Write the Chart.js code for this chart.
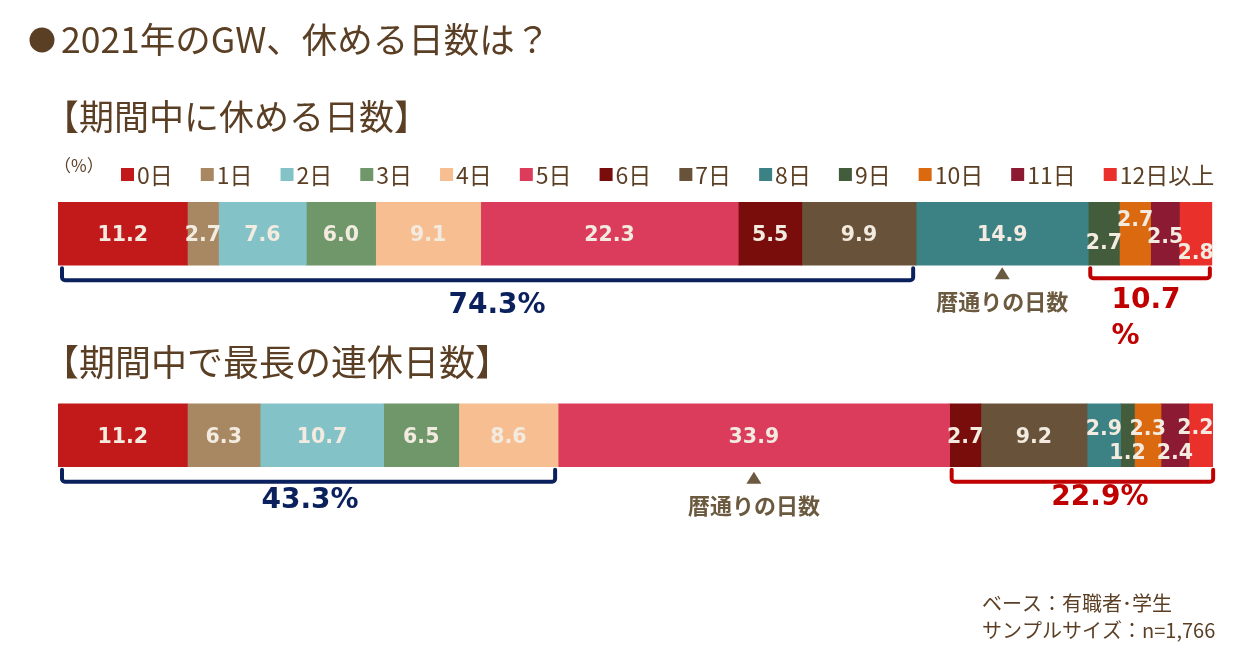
<!DOCTYPE html>
<html lang="ja">
<head>
  <meta charset="UTF-8" />
  <title>2021年のGW、休める日数は？</title>
  <script src="https://cdn.jsdelivr.net/npm/chart.js"></script>
<style>
  html, body { margin: 0; padding: 0; background: #fff; }
  #gwChart { display: block; }
</style>
</head>
<body>
  <canvas id="gwChart" width="1246" height="655"></canvas>
<script>
  // 2本の積み上げ棒
  const categories = ['期間中に休める日数', '期間中で最長の連休日数'];
  const dayLabels = ['0日', '1日', '2日', '3日', '4日', '5日', '6日', '7日', '8日', '9日', '10日', '11日', '12日以上'];
  const restDays = [11.2, 2.7, 7.6, 6.0, 9.1, 22.3, 5.5, 9.9, 14.9, 2.7, 2.7, 2.5, 2.8];
  const longestRun = [11.2, 6.3, 10.7, 6.5, 8.6, 33.9, 2.7, 9.2, 2.9, 1.2, 2.3, 2.4, 2.2];
  const dayColors = ['#c2191a', '#a88862', '#83c3c8', '#6f976a', '#f7be91', '#db3c5c', '#780d0c',
                     '#68533a', '#3c8285', '#425c3c', '#db6910', '#8c1a32', '#e9302a'];

  // ラベルが重ならないように上下にずらす（px）
  const shiftRest = [0, 0, 0, 0, 0, 0, 0, 0, 0, 8, -15, 2, 18];
  const shiftLong = [0, 0, 0, 0, 0, 0, 0, 0, -8, 16, -8, 16, -9];

  const BROWN = '#5b3f24';
  const NAVY = '#0b215e';
  const RED = '#c00000';
  const MARK = '#6b5a3f';
  const JP = '"Noto Sans CJK JP", "Noto Sans", sans-serif';
  const NUM = '"DejaVu Sans", sans-serif';

  function seg(chart, d, i) {
    const el = chart.getDatasetMeta(d).data[i];
    const p = el.getProps(['x', 'y', 'base', 'height'], true);
    return { x0: Math.min(p.x, p.base), x1: Math.max(p.x, p.base), y: p.y, h: p.height };
  }

  function bracket(ctx, x0, x1, yTop, yBot, color) {
    const r = 3;
    ctx.save();
    ctx.strokeStyle = color;
    ctx.lineWidth = 4;
    ctx.lineJoin = 'round';
    ctx.lineCap = 'round';
    ctx.beginPath();
    ctx.moveTo(x0, yTop);
    ctx.arcTo(x0, yBot, x0 + r, yBot, r);
    ctx.arcTo(x1, yBot, x1, yTop, r);
    ctx.lineTo(x1, yTop);
    ctx.stroke();
    ctx.restore();
  }

  function sum(arr, a, b) {
    let s = 0;
    for (let k = a; k <= b; k++) s += arr[k];
    return s.toFixed(1);
  }

  function marker(ctx, cx, top, textY) {
    ctx.save();
    ctx.fillStyle = MARK;
    ctx.beginPath();
    ctx.moveTo(cx, top);
    ctx.lineTo(cx + 7.5, top + 12);
    ctx.lineTo(cx - 7.5, top + 12);
    ctx.closePath();
    ctx.fill();
    ctx.font = 'bold 22px ' + JP;
    ctx.textAlign = 'center';
    ctx.textBaseline = 'middle';
    ctx.fillText('暦通りの日数', cx, textY);
    ctx.restore();
  }

  const annotate = {
    id: 'annotate',
    afterDatasetsDraw(chart) {
      const ctx = chart.ctx;
      ctx.save();
      ctx.fillStyle = '#f3ebe0';
      ctx.font = 'bold 20.5px ' + NUM;
      ctx.textAlign = 'center';
      ctx.textBaseline = 'middle';
      chart.data.datasets.forEach((ds, d) => {
        ds.data.forEach((v, i) => {
          const s = seg(chart, d, i);
          const dy = (i === 0 ? shiftRest : shiftLong)[d];
          const dx = (i === 1 && d === 12) ? -6 : 0;
          ctx.fillText(v.toFixed(1), (s.x0 + s.x1) / 2 + dx, s.y + 2 + dy);
        });
      });
      ctx.restore();
    },
    afterDraw(chart) {
      const ctx = chart.ctx;
      ctx.save();

      // タイトル
      ctx.fillStyle = BROWN;
      ctx.beginPath();
      ctx.arc(42, 40, 12.5, 0, Math.PI * 2);
      ctx.fill();
      ctx.textBaseline = 'middle';
      ctx.font = '35.5px ' + JP;
      ctx.fillText('2021年のGW、休める日数は？', 61, 40);

      ctx.font = '35px ' + JP;
      ctx.fillText('【' + categories[0] + '】', 44, 117);
      ctx.font = '36px ' + JP;
      ctx.fillText('【' + categories[1] + '】', 43, 362);

      // 凡例
      ctx.font = '17px ' + JP;
      ctx.fillText('（%）', 54, 166);
      ctx.font = '23px ' + JP;
      let lx = 121;
      chart.data.datasets.forEach(ds => {
        ctx.fillStyle = ds.backgroundColor;
        ctx.fillRect(lx, 168, 13, 13);
        ctx.fillStyle = BROWN;
        ctx.fillText(ds.label, lx + 16, 175);
        lx += 16 + ctx.measureText(ds.label).width + 28;
      });

      // 括弧（上の棒）
      let a = seg(chart, 0, 0), b = seg(chart, 7, 0);
      let bot = a.y + a.h / 2;
      bracket(ctx, a.x0 + 4, b.x1 - 3, bot + 3, bot + 15, NAVY);
      ctx.fillStyle = NAVY;
      ctx.font = 'bold 28px ' + NUM;
      ctx.textAlign = 'center';
      ctx.fillText(sum(restDays, 0, 7) + '%', (a.x0 + b.x1) / 2 + 10, bot + 40);

      a = seg(chart, 9, 0); b = seg(chart, 12, 0);
      bracket(ctx, a.x0 + 2, b.x1 - 2, bot + 3, bot + 13, RED);
      ctx.fillStyle = RED;
      const t = sum(restDays, 9, 12);
      const tw = ctx.measureText(t).width;
      const cx = (a.x0 + b.x1) / 2 - 4;
      ctx.fillText(t, cx, bot + 35);
      ctx.textAlign = 'left';
      ctx.fillText('%', cx - tw / 2, bot + 71);

      const m = seg(chart, 8, 0);
      marker(ctx, (m.x0 + m.x1) / 2, bot + 2, bot + 36);

      // 括弧（下の棒）
      a = seg(chart, 0, 1); b = seg(chart, 4, 1);
      bot = a.y + a.h / 2;
      bracket(ctx, a.x0 + 4, b.x1 - 3, bot + 3, bot + 15, NAVY);
      ctx.fillStyle = NAVY;
      ctx.textAlign = 'center';
      ctx.fillText(sum(longestRun, 0, 4) + '%', (a.x0 + b.x1) / 2 + 2, bot + 34);

      a = seg(chart, 6, 1); b = seg(chart, 12, 1);
      bracket(ctx, a.x0 + 2, b.x1 - 1, bot + 3, bot + 15, RED);
      ctx.fillStyle = RED;
      ctx.fillText(sum(longestRun, 6, 12) + '%', (a.x0 + b.x1) / 2 + 18, bot + 31);

      const m2 = seg(chart, 5, 1);
      marker(ctx, (m2.x0 + m2.x1) / 2, bot + 5, bot + 39);

      // 注記
      ctx.fillStyle = BROWN;
      ctx.textAlign = 'left';
      ctx.font = '20px ' + JP;
      ctx.fillText('ベース：有職者･学生', 982, 603);
      ctx.fillText('サンプルサイズ：n=1,766', 982, 630);

      ctx.restore();
    }
  };

  const datasets = dayLabels.map((lab, k) => ({
    label: lab,
    data: [restDays[k], longestRun[k]],
    backgroundColor: dayColors[k],
    borderWidth: 0,
    barThickness: 63
  }));

  new Chart(document.getElementById('gwChart'), {
    type: 'bar',
    data: { labels: categories, datasets: datasets },
    options: {
      indexAxis: 'y',
      responsive: false,
      animation: false,
      events: [],
      layout: { padding: { left: 58, right: 33, top: 133, bottom: 119 } },
      plugins: { legend: { display: false }, tooltip: { enabled: false } },
      scales: {
        x: { stacked: true, min: 0, max: 100, display: false },
        y: { stacked: true, display: false }
      }
    },
    plugins: [annotate]
  });
</script>
</body>
</html>
